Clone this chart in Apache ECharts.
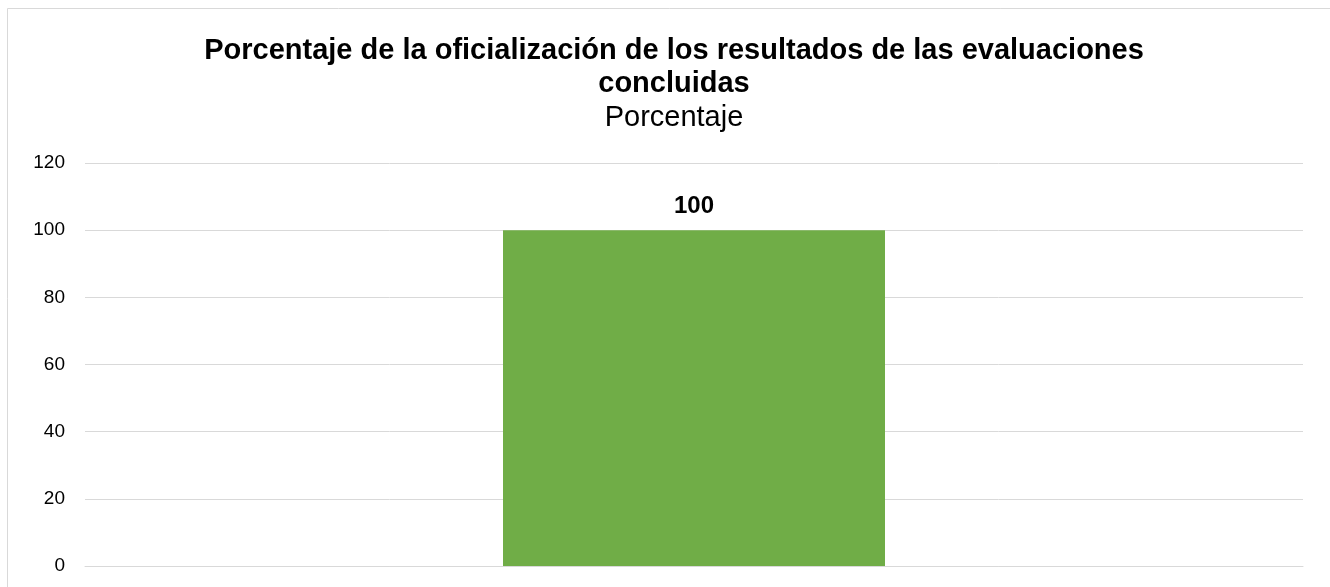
<!DOCTYPE html>
<html>
<head>
<meta charset="utf-8">
<script src="https://cdn.jsdelivr.net/npm/echarts@6/dist/echarts.min.js"></script>
<style>
html,body{margin:0;padding:0;background:#fff;}
#chart{width:1330px;height:587px;}
</style>
</head>
<body>
<div id="chart"></div>
<script>
const titleText = 'Porcentaje de la oficialización de los resultados de las evaluaciones\nconcluidas';
const subtitleText = 'Porcentaje';
const categories = ['Porcentaje'];
const values = [100];
const yMin = 0, yMax = 120, yInterval = 20;

const chart = echarts.init(document.getElementById('chart'), null, {renderer: 'canvas'});
chart.setOption({
  backgroundColor: '#ffffff',
  animation: false,
  graphic: [{
    type: 'rect',
    shape: {x: 7.5, y: 8.5, width: 1400, height: 700},
    style: {fill: 'none', stroke: '#d9d9d9', lineWidth: 1},
    silent: true
  }],
  title: {
    text: titleText,
    subtext: subtitleText,
    left: 669,
    textAlign: 'center',
    top: 29,
    itemGap: 1,
    textStyle: {fontFamily: 'Liberation Sans', fontSize: 29, fontWeight: 'bold', color: '#000', lineHeight: 33},
    subtextStyle: {fontFamily: 'Liberation Sans', fontSize: 29, fontWeight: 'normal', color: '#000', lineHeight: 33}
  },
  grid: {left: 85, right: 27, top: 163, bottom: 21, containLabel: false},
  xAxis: {
    type: 'category',
    data: categories,
    axisLine: {show: true, lineStyle: {color: '#d9d9d9', width: 1}},
    axisTick: {show: false},
    axisLabel: {show: false}
  },
  yAxis: {
    type: 'value',
    min: yMin, max: yMax, interval: yInterval,
    axisLine: {show: false},
    axisTick: {show: false},
    splitLine: {lineStyle: {color: '#d9d9d9', width: 1}},
    axisLabel: {margin: 20, fontFamily: 'Liberation Sans', fontSize: 19, color: '#000'}
  },
  series: [{
    type: 'bar',
    data: values,
    barWidth: 382,
    itemStyle: {color: '#70AD47'},
    label: {show: true, position: 'top', distance: 12, fontFamily: 'Liberation Sans', fontSize: 24, fontWeight: 'bold', color: '#000'}
  }]
});
</script>
</body>
</html>
